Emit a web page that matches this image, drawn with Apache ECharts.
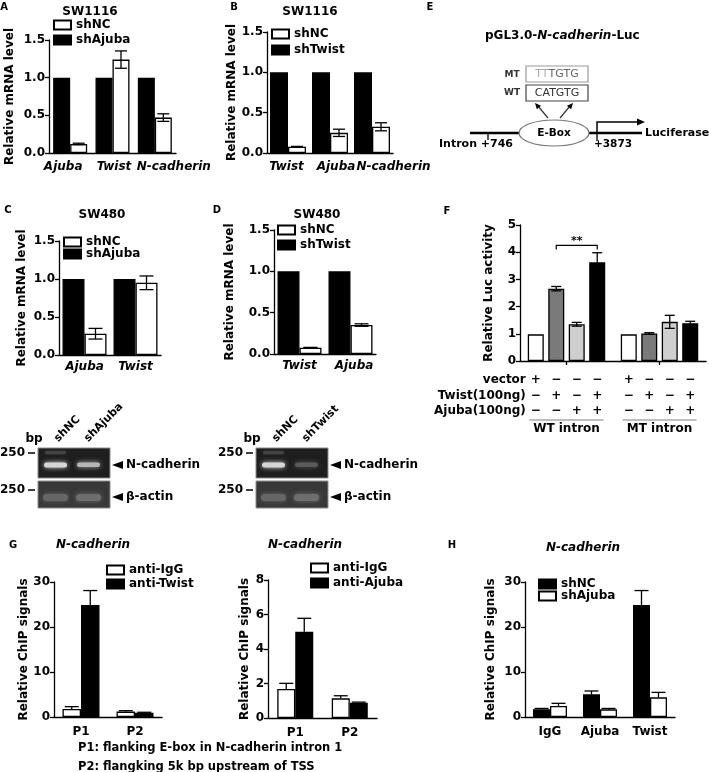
<!DOCTYPE html>
<html><head><meta charset="utf-8">
<script src="https://cdn.jsdelivr.net/npm/echarts@6/dist/echarts.min.js"></script>
<style>html,body{margin:0;padding:0;background:#fff}#c{width:709px;height:772px}</style>
</head><body><div id="c"></div>
<script>
// ---------- DATA ----------
// Panel A (SW1116)
const catsA = ['Ajuba', 'Twist', 'N-cadherin'];
const aShAjuba = [1, 1, 1];
const aShNC = [0.12, 1.24, 0.47];
const aShNCErr = [0.01, 0.115, 0.05];
// Panel B (SW1116)
const catsB = ['Twist', 'Ajuba', 'N-cadherin'];
const bShTwist = [1, 1, 1];
const bShNC = [0.078, 0.25, 0.325];
const bShNCErr = [0.004, 0.045, 0.05];
// Panel C (SW480)
const catsC = ['Ajuba', 'Twist'];
const cShAjuba = [1, 1];
const cShNC = [0.28, 0.95];
const cShNCErr = [0.07, 0.09];
// Panel D (SW480)
const catsD = ['Twist', 'Ajuba'];
const dShTwist = [1, 1];
const dShNC = [0.075, 0.35];
const dShNCErr = [0.005, 0.015];
// Panel F (luciferase)
const catsF = ['WT intron', 'MT intron'];
const fVector = [0.98, 0.98];
const fTwist = [2.66, 1.01];
const fTwistErr = [0.08, 0.03];
const fAjuba = [1.35, 1.44];
const fAjubaErr = [0.07, 0.24];
const fBoth = [3.63, 1.39];
const fBothErr = [0.35, 0.07];
const rowLabels = ['vector', 'Twist(100ng)', 'Ajuba(100ng)'];
const rowVector = ['+', '−', '−', '−', '+', '−', '−', '−'];
const rowTwist  = ['−', '+', '−', '+', '−', '+', '−', '+'];
const rowAjuba  = ['−', '−', '+', '+', '−', '−', '+', '+'];
const sigLevel = 4.25;
// Panel G (ChIP)
const catsG = ['P1', 'P2'];
const g1IgG = [1.8, 1.2];
const g1IgGErr = [0.5, 0.2];
const g1Twist = [24.9, 0.95];
const g1TwistErr = [3.2, 0.1];
const g2IgG = [1.68, 1.14];
const g2IgGErr = [0.33, 0.15];
const g2Ajuba = [5.0, 0.88];
const g2AjubaErr = [0.78, 0.04];
// Panel H
const catsH = ['IgG', 'Ajuba', 'Twist'];
const hShNC = [1.7, 5.04, 24.9];
const hShNCErr = [0.2, 0.74, 3.2];
const hShAjuba = [2.44, 1.7, 4.37];
const hShAjubaErr = [0.6, 0.2, 1.1];

// ---------- CHART ----------
const FONT = 'DejaVu Sans';
const chart = echarts.init(document.getElementById('c'), null, {renderer: 'canvas'});

const grids = [
  {left: 49, top: 40, width: 127, height: 113},   // 0 A
  {left: 267, top: 32, width: 126, height: 121},  // 1 B
  {left: 59, top: 241, width: 102, height: 114},  // 2 C
  {left: 274, top: 230, width: 102, height: 124}, // 3 D
  {left: 520, top: 225, width: 186, height: 136}, // 4 F
  {left: 54, top: 582, width: 108, height: 135},  // 5 G1
  {left: 268, top: 580, width: 109, height: 138}, // 6 G2
  {left: 525, top: 582, width: 150, height: 135}  // 7 H
].map(g => Object.assign({containLabel: false, outerBoundsMode: 'none'}, g));

const txt = {fontFamily: FONT, fontWeight: 'bold', color: '#000'};

// horizontal nudges of category labels (px), layout only
const labelShift = {0: [-7, 1.5, 19], 1: [-1.5, 6, 21.5], 3: [0, 3.5]};
function catData(gi, cats) {
  const sh = labelShift[gi];
  if (!sh) return cats;
  return cats.map((c, i) => ({value: c, textStyle: {
    padding: sh[i] >= 0 ? [0, 0, 0, 2 * sh[i]] : [0, -2 * sh[i], 0, 0]}}));
}

function yAx(gi, max, interval, name, nameGap, fmt) {
  return {
    type: 'value', gridIndex: gi, min: 0, max: max, interval: interval,
    name: name, nameLocation: 'middle', nameGap: nameGap,
    nameTextStyle: Object.assign({fontSize: 12}, txt),
    axisLine: {show: true, lineStyle: {color: '#000', width: 1.3}},
    axisTick: {show: true, length: 4, lineStyle: {color: '#000', width: 1.3}},
    axisLabel: Object.assign({fontSize: 12, margin: 4, formatter: fmt || (v => String(v))}, txt),
    splitLine: {show: false}
  };
}
function xAx(gi, data, italic, margin) {
  return {
    type: 'category', gridIndex: gi, data: catData(gi, data),
    axisLine: {show: true, lineStyle: {color: '#000', width: 1.3}},
    axisTick: {show: false},
    axisLabel: Object.assign({fontSize: 12, margin: margin, fontStyle: italic ? 'italic' : 'normal', interval: 0}, txt)
  };
}
const f1 = v => v.toFixed(1);

const xAxes = [
  xAx(0, catsA, true, 8),
  xAx(1, catsB, true, 8),
  xAx(2, catsC, true, 6),
  xAx(3, catsD, true, 6),
  Object.assign(xAx(4, catsF, false, 62), {axisTick: {show: true, alignWithLabel: true, length: 4, lineStyle: {color: '#000', width: 1.3}}}),
  xAx(5, catsG, false, 9),
  xAx(6, catsG, false, 9),
  xAx(7, catsH, false, 9)
];
const yAxes = [
  yAx(0, 1.5, 0.5, 'Relative mRNA level', 33, f1),
  yAx(1, 1.5, 0.5, 'Relative mRNA level', 27, f1),
  yAx(2, 1.5, 0.5, 'Relative mRNA level', 31, f1),
  yAx(3, 1.5, 0.5, 'Relative mRNA level', 38, f1),
  yAx(4, 5, 1, 'Relative Luc activity', 25),
  yAx(5, 30, 10, 'Relative ChIP signals', 22),
  yAx(6, 8, 2, 'Relative ChIP signals', 17),
  yAx(7, 30, 10, 'Relative ChIP signals', 28)
];

function bar(name, gi, vals, color, bw, gap) {
  return {type: 'bar', name: name, xAxisIndex: gi, yAxisIndex: gi, data: vals,
    barWidth: bw, barGap: gap, silent: true, z: 2,
    itemStyle: {color: color, borderColor: '#000', borderWidth: 1.3}};
}
function err(gi, vals, errs, offset, both, capHalf) {
  return {
    type: 'custom', xAxisIndex: gi, yAxisIndex: gi, z: 5, silent: true,
    data: vals.map((v, i) => [i, v, v + errs[i], v - errs[i]]),
    renderItem: function (params, api) {
      const c = api.coord([api.value(0), api.value(1)]);
      const hi = api.coord([api.value(0), api.value(2)]);
      const lo = api.coord([api.value(0), api.value(3)]);
      const x = c[0] + offset;
      const top = hi[1], bot = both ? lo[1] : c[1];
      const st = {stroke: '#000', lineWidth: 1.3};
      const ch = [
        {type: 'line', shape: {x1: x, y1: top, x2: x, y2: bot}, style: st},
        {type: 'line', shape: {x1: x - capHalf, y1: top, x2: x + capHalf, y2: top}, style: st}
      ];
      if (both) ch.push({type: 'line', shape: {x1: x - capHalf, y1: bot, x2: x + capHalf, y2: bot}, style: st});
      return {type: 'group', children: ch};
    }
  };
}

const FW = 16, FG = '28%', FGpx = 16 * 0.28;
const fOff = [-1.5, -0.5, 0.5, 1.5].map(k => k * (FW + FGpx));

const series = [
  bar('A|shAjuba', 0, aShAjuba, '#000', 17, '0%'),
  bar('A|shNC', 0, aShNC, '#fff', 17, '0%'),
  err(0, aShNC, aShNCErr, 8.5, true, 6),
  bar('B|shTwist', 1, bShTwist, '#000', 18, '0%'),
  bar('B|shNC', 1, bShNC, '#fff', 18, '0%'),
  err(1, bShNC, bShNCErr, 9, true, 6),
  bar('C|shAjuba', 2, cShAjuba, '#000', 22, '0%'),
  bar('C|shNC', 2, cShNC, '#fff', 22, '0%'),
  err(2, cShNC, cShNCErr, 11, true, 7),
  bar('D|shTwist', 3, dShTwist, '#000', 22, '0%'),
  bar('D|shNC', 3, dShNC, '#fff', 22, '0%'),
  err(3, dShNC, dShNCErr, 11, true, 7),
  bar('F|vector', 4, fVector, '#fff', FW, FG),
  bar('F|Twist', 4, fTwist, '#7a7a7a', FW, FG),
  bar('F|Ajuba', 4, fAjuba, '#cfcfcf', FW, FG),
  bar('F|Twist+Ajuba', 4, fBoth, '#000', FW, FG),
  err(4, fTwist, fTwistErr, fOff[1], true, 5),
  err(4, fAjuba, fAjubaErr, fOff[2], true, 5),
  err(4, fBoth, fBothErr, fOff[3], true, 5),
  bar('G1|anti-IgG', 5, g1IgG, '#fff', 18.5, '0%'),
  bar('G1|anti-Twist', 5, g1Twist, '#000', 18.5, '0%'),
  err(5, g1IgG, g1IgGErr, -9.25, false, 7),
  err(5, g1Twist, g1TwistErr, 9.25, false, 7),
  bar('G2|anti-IgG', 6, g2IgG, '#fff', 18, '0%'),
  bar('G2|anti-Ajuba', 6, g2Ajuba, '#000', 18, '0%'),
  err(6, g2IgG, g2IgGErr, -9, false, 7),
  err(6, g2Ajuba, g2AjubaErr, 9, false, 7),
  bar('H|shNC', 7, hShNC, '#000', 17, '0%'),
  bar('H|shAjuba', 7, hShAjuba, '#fff', 17, '0%'),
  err(7, hShNC, hShNCErr, -8.5, false, 7),
  err(7, hShAjuba, hShAjubaErr, 8.5, false, 7)
];

function legend(names, left, top, gap) {
  return {data: names, left: left, top: top, orient: 'vertical', itemWidth: 17, itemHeight: 9,
    itemGap: gap, icon: 'rect', selectedMode: false, padding: 0,
    formatter: n => n.split('|')[1],
    textStyle: Object.assign({fontSize: 12, lineHeight: 12}, txt)};
}
const legends = [
  legend(['A|shNC', 'A|shAjuba'], 53, 19, 3),
  legend(['B|shNC', 'B|shTwist'], 271, 28, 4),
  legend(['C|shNC', 'C|shAjuba'], 63, 236, 0),
  legend(['D|shNC', 'D|shTwist'], 277, 224, 3),
  legend(['G1|anti-IgG', 'G1|anti-Twist'], 106, 564, 2),
  legend(['G2|anti-IgG', 'G2|anti-Ajuba'], 310, 562, 3),
  legend(['H|shNC', 'H|shAjuba'], 538, 578, 0)
];

chart.setOption({
  animation: false,
  backgroundColor: '#fff',
  grid: grids, xAxis: xAxes, yAxis: yAxes, series: series, legend: legends
});

// ---------- ANNOTATIONS ----------
function T(text, x, y, size, align, extra) {
  return {type: 'text', x: x, y: y, silent: true, z: 10,
    style: Object.assign({text: text, fontFamily: FONT, fontWeight: 'bold', fontSize: size,
      fill: '#000', align: align || 'center', verticalAlign: 'middle'}, extra || {})};
}
function L(x1, y1, x2, y2, w, c) {
  return {type: 'line', silent: true, z: 10, shape: {x1: x1, y1: y1, x2: x2, y2: y2},
    style: {stroke: c || '#000', lineWidth: w || 1.3}};
}
function P(points, c) {
  return {type: 'polygon', silent: true, z: 10, shape: {points: points}, style: {fill: c || '#000'}};
}
function R(x, y, w, h, fill, stroke, extra) {
  return {type: 'rect', silent: true, z: 9, shape: {x: x, y: y, width: w, height: h},
    style: Object.assign({fill: fill, stroke: stroke || null, lineWidth: 1}, extra || {})};
}
function band(x, y, w, h, c, blur) {
  return {type: 'rect', silent: true, z: 11, shape: {x: x, y: y, width: w, height: h, r: h / 2},
    style: {fill: c, shadowBlur: blur, shadowColor: c}};
}
function arrowHead(tx, ty, fx, fy, len, half) {
  const dx = tx - fx, dy = ty - fy, d = Math.hypot(dx, dy), ux = dx / d, uy = dy / d;
  const bx = tx - ux * len, by = ty - uy * len;
  return P([[tx, ty], [bx - uy * half, by + ux * half], [bx + uy * half, by - ux * half]]);
}

const g = [];
[['A', 4, 7], ['B', 234, 7], ['E', 430, 7], ['C', 8, 210], ['D', 217, 210], ['F', 447, 211], ['G', 13, 545], ['H', 452, 545]]
  .forEach(a => g.push(T(a[0], a[1], a[2], 10, 'center')));
g.push(T('SW1116', 90, 12, 12));
g.push(T('SW1116', 310, 12, 12));
g.push(T('SW480', 102, 215, 12));
g.push(T('SW480', 317, 215, 12));
g.push(T('N-cadherin', 93, 545, 12, 'center', {fontStyle: 'italic'}));
g.push(T('N-cadherin', 305, 545, 12, 'center', {fontStyle: 'italic'}));
g.push(T('N-cadherin', 583, 548, 12, 'center', {fontStyle: 'italic'}));
g.push(T('P1: flanking E-box in N-cadherin intron 1', 78, 748, 11.5, 'left'));
g.push(T('P2: flangking 5k bp upstream of TSS', 78, 767, 11.5, 'left'));

// Panel E diagram
g.push({type: 'text', x: 485, y: 36, silent: true, z: 10, style: {
  text: '{b|pGL3.0-}{i|N-cadherin}{b|-Luc}', align: 'left', verticalAlign: 'middle',
  rich: {b: {fontFamily: FONT, fontWeight: 'bold', fontSize: 12, fill: '#000'},
         i: {fontFamily: FONT, fontWeight: 'bold', fontStyle: 'italic', fontSize: 12, fill: '#000'}}}});
g.push(T('MT', 512, 75, 9, 'center', {fill: '#333'}));
g.push(T('WT', 512, 93, 9, 'center', {fill: '#333'}));
g.push(R(526, 66, 62, 16, '#fff', '#999', {lineWidth: 1.2}));
g.push(R(526, 85, 62, 16, '#fff', '#444', {lineWidth: 1.2}));
g.push({type: 'text', x: 557, y: 74, silent: true, z: 10, style: {
  text: '{l|TT}{d|TGTG}', align: 'center', verticalAlign: 'middle',
  rich: {l: {fontFamily: FONT, fontSize: 11, fill: '#aaa'}, d: {fontFamily: FONT, fontSize: 11, fill: '#666'}}}});
g.push(T('CATGTG', 557, 93, 11, 'center', {fontWeight: 'normal', fill: '#333'}));
g.push(L(548, 118, 538, 106, 1.2, '#333'));
g.push(arrowHead(535, 103, 548, 118, 6, 2.8));
g.push(L(560, 118, 570, 106, 1.2, '#333'));
g.push(arrowHead(573, 103, 560, 118, 6, 2.8));
g.push(L(470, 133, 520, 133, 2.5));
g.push(L(588, 133, 642, 133, 2.5));
g.push(L(488, 133, 488, 140, 1.3));
g.push(L(597, 133, 597, 141, 1.3));
g.push({type: 'ellipse', silent: true, z: 11, shape: {cx: 554, cy: 133, rx: 35, ry: 13},
  style: {fill: '#fff', stroke: '#777', lineWidth: 1.2}});
g.push(Object.assign(T('E-Box', 554, 133, 10.5), {z: 12}));
g.push({type: 'polyline', silent: true, z: 10, shape: {points: [[597, 133], [597, 122], [638, 122]]},
  style: {stroke: '#000', lineWidth: 1.5, fill: null}});
g.push(P([[645, 122], [637, 118.5], [637, 125.5]]));
g.push(T('Intron +746', 513, 144, 11, 'right'));
g.push(T('+3873', 594, 144, 10.5, 'left'));
g.push(T('Luciferase', 645, 133, 11, 'left'));

// Gels
function gel(ox, lane2Top, lane1Label, lane2Label) {
  g.push(T('bp', ox - 4, 439, 12));
  g.push({type: 'text', x: ox + 22, y: 444, rotation: Math.PI / 4, silent: true, z: 10,
    style: {text: lane1Label, fontFamily: FONT, fontWeight: 'bold', fontSize: 11, fill: '#000', align: 'left', verticalAlign: 'bottom'}});
  g.push({type: 'text', x: ox + 52, y: 444, rotation: Math.PI / 4, silent: true, z: 10,
    style: {text: lane2Label, fontFamily: FONT, fontWeight: 'bold', fontSize: 11, fill: '#000', align: 'left', verticalAlign: 'bottom'}});
  g.push(T('250', ox - 13, 453, 12, 'right'));
  g.push(L(ox - 10, 453, ox - 3, 453, 1.5));
  g.push(T('250', ox - 13, 490, 12, 'right'));
  g.push(L(ox - 10, 490, ox - 3, 490, 1.5));
  g.push(R(ox, 448, 72, 30, '#1e1e1e', '#8a8a8a'));
  g.push(R(ox, 481, 72, 27, '#383838', '#8a8a8a'));
  g.push(band(ox + 6, 462.5, 23, 5, '#d6d6d6', 5));
  g.push(band(ox + 7, 451, 21, 3, '#444', 3));
  g.push(band(ox + 39, 462.5, 23, 4.5, lane2Top, 5));
  g.push(band(ox + 5, 494, 25, 7, '#666', 5));
  g.push(band(ox + 38, 494, 25, 7, '#6e6e6e', 5));
  g.push(P([[ox + 74, 465], [ox + 85, 461], [ox + 85, 469]]));
  g.push(T('N-cadherin', ox + 88, 465, 12, 'left'));
  g.push(P([[ox + 74, 497], [ox + 85, 493], [ox + 85, 501]]));
  g.push(T('β-actin', ox + 88, 497, 12, 'left'));
}
gel(38, '#b5b5b5', 'shNC', 'shAjuba');
gel(256, '#5a5a5a', 'shNC', 'shTwist');

// Panel F table + bracket (positions from the F axis)
const fc = catsF.map((c, i) => chart.convertToPixel({xAxisIndex: 4}, i));
const cols = [];
fc.forEach(c => fOff.forEach(o => cols.push(c + o)));
const rowY = [380, 396, 411];
[rowVector, rowTwist, rowAjuba].forEach((row, r) => {
  g.push(T(rowLabels[r], cols[0] - 10, rowY[r], 12, 'right'));
  row.forEach((s, k) => g.push(T(s, cols[k], rowY[r], 12)));
});
fc.forEach(c => g.push(L(c - 37, 420, c + 37, 420, 1.5, '#aaa')));
const yBr = chart.convertToPixel({yAxisIndex: 4}, sigLevel);
g.push({type: 'polyline', silent: true, z: 10,
  shape: {points: [[cols[1], yBr + 4], [cols[1], yBr], [cols[3], yBr], [cols[3], yBr + 4]]},
  style: {stroke: '#000', lineWidth: 1.2, fill: null}});
g.push(T('**', (cols[1] + cols[3]) / 2, yBr - 4, 11));

chart.setOption({graphic: {elements: g}});
</script>
</body></html>
